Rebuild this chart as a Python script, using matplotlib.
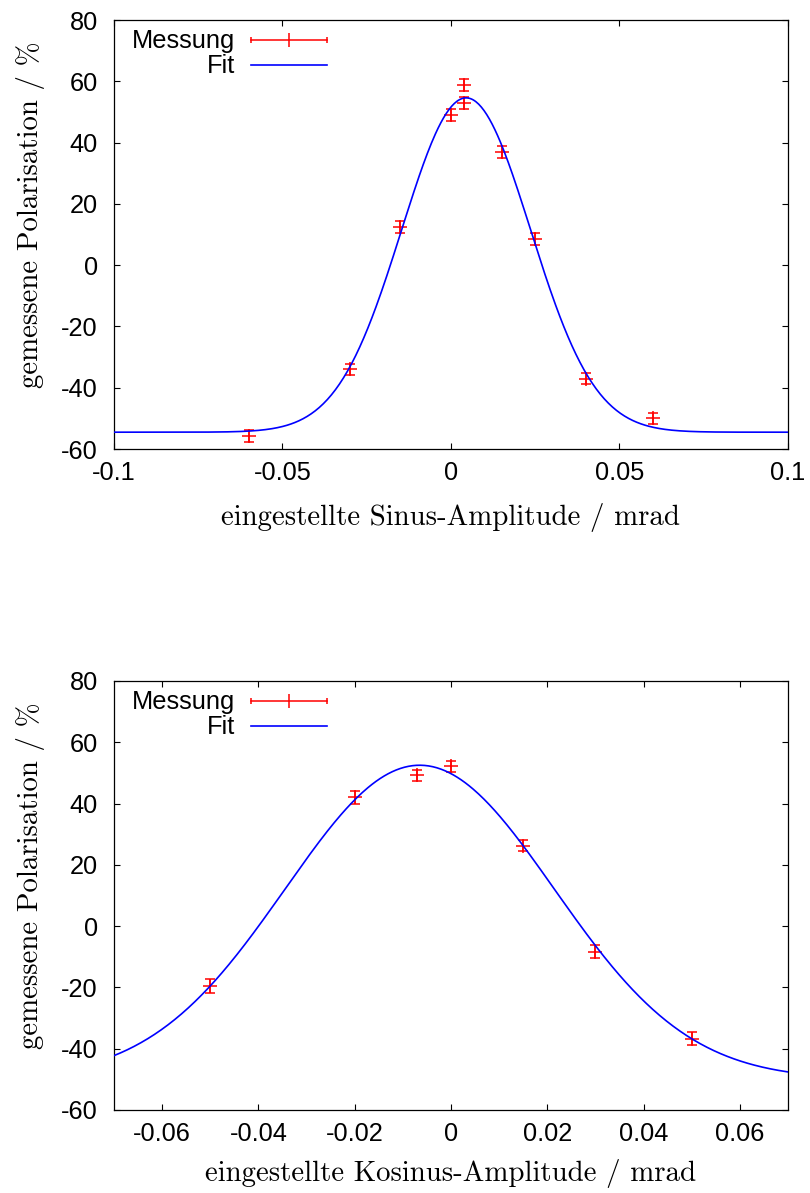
import matplotlib
matplotlib.use("Agg")
import matplotlib.pyplot as plt
import numpy as np

# measured points, sine amplitude scan
sin_x = [-0.06, -0.03, -0.015, 0.0, 0.004, 0.004, 0.015, 0.025, 0.04, 0.06]
sin_p = [-55.8, -34.0, 12.4, 49.1, 58.9, 52.9, 37.0, 8.5, -37.0, -50.0]
sin_err = [1.9, 1.9, 1.9, 1.9, 1.9, 1.9, 1.9, 1.9, 1.9, 1.9]

# measured points, cosine amplitude scan
cos_x = [-0.05, -0.02, -0.007, 0.0, 0.015, 0.03, 0.05]
cos_p = [-19.5, 42.0, 49.2, 52.1, 26.3, -8.4, -36.7]
cos_err = [2.2, 2.0, 1.8, 1.8, 1.8, 2.1, 2.1]

# gaussian fit parameters: offset, height, centre, width
sin_fit = [-54.5, 109.1, 0.0045, 0.027]
cos_fit = [-50.0, 102.5, -0.0065, 0.0395]

y_ticks = [-60, -40, -20, 0, 20, 40, 60, 80]
y_ticklabels = ["-60", "-40", "-20", "0", "20", "40", "60", "80"]
sin_ticks = [-0.1, -0.05, 0.0, 0.05, 0.1]
sin_ticklabels = ["-0.1", "-0.05", "0", "0.05", "0.1"]
cos_ticks = [-0.06, -0.04, -0.02, 0.0, 0.02, 0.04, 0.06]
cos_ticklabels = ["-0.06", "-0.04", "-0.02", "0", "0.02", "0.04", "0.06"]

SANS = ["Liberation Sans", "DejaVu Sans"]
SERIF = ["cmr10", "DejaVu Serif"]
TICK_SIZE = 18.3
LABEL_SIZE = 20.8


def gauss(x, p):
    c, a, x0, w = p
    return c + a * np.exp(-((x - x0) / w) ** 2)


def panel(ax, xs, ps, errs, fit, xlim, ticks, ticklabels, xlabel, xlab_y):
    ax.errorbar(xs, ps, yerr=errs, fmt="+", color="red", ms=10, mew=1.1,
                elinewidth=1.1, capsize=3.8, capthick=1.1, zorder=2)
    xf = np.linspace(xlim[0], xlim[1], 500)
    ax.plot(xf, gauss(xf, fit), color="blue", lw=1.2, zorder=3)

    ax.set_xlim(xlim)
    ax.set_ylim(-60, 80)
    ax.set_xticks(ticks)
    ax.set_xticklabels(ticklabels, family=SANS, size=TICK_SIZE)
    ax.set_yticks(y_ticks)
    ax.set_yticklabels(y_ticklabels, family=SANS, size=TICK_SIZE)
    ax.tick_params(axis="both", direction="in", length=4.3, width=0.8,
                   top=True, right=True)
    ax.tick_params(axis="x", pad=8.5)
    ax.tick_params(axis="y", pad=11.5)
    for s in ax.spines.values():
        s.set_linewidth(0.9)

    ax.set_xlabel(xlabel, family=SERIF, size=LABEL_SIZE)
    ax.xaxis.set_label_coords(0.5, xlab_y)
    ax.set_ylabel("gemessene Polarisation / %", family=SERIF, size=LABEL_SIZE)
    ax.yaxis.set_label_coords(-0.1025, 0.5455)

    # gnuplot style key, text right aligned, sample on the right
    tr = ax.transAxes
    ax.text(0.1795, 0.934, "Messung", transform=tr, ha="right", va="baseline",
            family=SANS, size=TICK_SIZE)
    ax.text(0.1795, 0.8758, "Fit", transform=tr, ha="right", va="baseline",
            family=SANS, size=TICK_SIZE)
    ax.plot([0.2033, 0.3160], [0.9534, 0.9534], color="red", lw=1.1,
            transform=tr, clip_on=False)
    ax.plot([0.2033, 0.3160], [0.9534, 0.9534], ls="", marker="|", ms=5,
            mew=1.1, color="red", transform=tr, clip_on=False)
    ax.plot([0.2597], [0.9534], ls="", marker="|", ms=10, mew=1.1,
            color="red", transform=tr, clip_on=False)
    ax.plot([0.2033, 0.3160], [0.8951, 0.8951], color="blue", lw=1.2,
            transform=tr, clip_on=False)


fig = plt.figure(figsize=(8.1, 11.93), dpi=100)
ax1 = fig.add_axes([0.1407, 0.6236, 0.8321, 0.3596])
ax2 = fig.add_axes([0.1407, 0.0696, 0.8321, 0.3596])

panel(ax1, sin_x, sin_p, sin_err, sin_fit, (-0.1, 0.1), sin_ticks,
      sin_ticklabels, "eingestellte Sinus-Amplitude / mrad", -0.125)
panel(ax2, cos_x, cos_p, cos_err, cos_fit, (-0.07, 0.07), cos_ticks,
      cos_ticklabels, "eingestellte Kosinus-Amplitude / mrad", -0.115)

fig.savefig("out.png", dpi=100)
